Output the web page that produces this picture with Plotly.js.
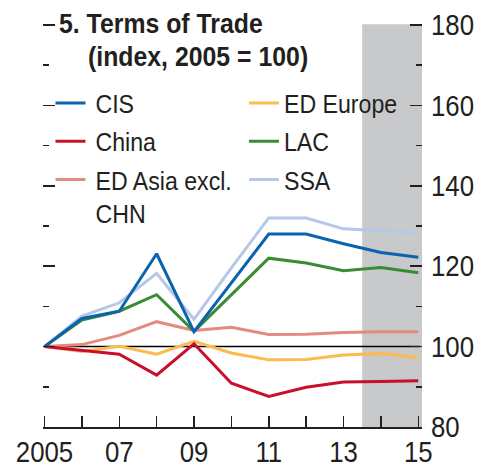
<!DOCTYPE html>
<html>
<head>
<meta charset="utf-8">
<script src="https://cdn.plot.ly/plotly-3.0.1.min.js"></script>
<style>html,body{margin:0;padding:0;background:#fff;}#chart{width:477px;height:465px;}</style>
</head>
<body>
<div id="chart"></div>
<script>
const years = [2005, 2006, 2007, 2008, 2009, 2010, 2011, 2012, 2013, 2014, 2015];
const yearLabels = ['2005', '', '07', '', '09', '', '11', '', '13', '', '15'];
const cis = [100, 107.0, 108.8, 123.1, 103.7, 115.8, 128.0, 128.0, 125.6, 123.4, 122.2];
const china = [100, 99.1, 98.1, 92.9, 100.7, 90.9, 87.6, 89.9, 91.2, 91.3, 91.5];
const edAsia = [100, 100.5, 102.8, 106.2, 104.0, 104.8, 103.0, 103.1, 103.5, 103.7, 103.7];
const edEurope = [100, 98.8, 100.1, 98.1, 101.3, 98.4, 96.7, 96.8, 97.9, 98.3, 97.3];
const lac = [100, 106.6, 108.8, 112.9, 103.8, 113.0, 122.0, 120.8, 118.9, 119.7, 118.4];
const ssa = [100, 107.6, 110.9, 118.2, 106.8, 119.6, 132.0, 132.0, 129.3, 128.8, 128.3];
const names = ['CIS', 'China', 'ED Asia excl.<br>CHN', 'ED Europe', 'LAC', 'SSA'];
const colors = ['#0B63B0', '#C8102E', '#E38B7F', '#FDBA4E', '#3A8B33', '#B5C8E8'];
const projStart = 2013.5;
const refLevel = 100;
const titleLine1 = '5. Terms of Trade';
const titleLine2 = '(index, 2005 = 100)';

const FONT = '"Liberation Sans", Arial, sans-serif';
const TXT = '#231F20';
const NARROW = 0.89;
const NARROW_TITLE = 0.92;

function tr(y, i, legend, rank) {
  return {
    x: years, y: y, name: names[i], type: 'scatter', mode: 'lines',
    line: {color: colors[i], width: 3},
    legend: legend, legendrank: rank, legendgroup: 'g' + i,
    hoverinfo: 'skip'
  };
}
const data = [
  tr(ssa, 5, 'legend2', 3),
  tr(edEurope, 3, 'legend2', 1),
  tr(edAsia, 2, 'legend', 3),
  tr(lac, 4, 'legend2', 2),
  tr(china, 1, 'legend', 2),
  tr(cis, 0, 'legend', 1)
];

const L = 42.5, T = 23, W = 380, H = 404;
const px = x => (x - L) / W;
const py = y => (T + H - y) / H;

const legendCommon = {
  bgcolor: 'rgba(0,0,0,0)', orientation: 'v', valign: 'top',
  font: {family: FONT, size: 26, color: TXT},
  itemwidth: 30, tracegroupgap: 1.5,
  xanchor: 'left', yanchor: 'top'
};

const layout = {
  width: 477, height: 465,
  margin: {l: L, r: 477 - L - W, t: T, b: 465 - T - H},
  paper_bgcolor: '#fff', plot_bgcolor: 'rgba(0,0,0,0)',
  font: {family: FONT, color: TXT},
  showlegend: true,
  legend: Object.assign({}, legendCommon, {x: px(50), y: py(79.5)}),
  legend2: Object.assign({}, legendCommon, {x: px(244), y: py(79.5)}),
  xaxis: {
    range: [2004.96, 2015.1], tickvals: years, ticktext: yearLabels,
    ticks: 'inside', ticklen: 11, tickwidth: 1.5, tickcolor: TXT,
    showline: true, linecolor: TXT, linewidth: 1.5,
    showgrid: false, zeroline: false, ticklabelstandoff: -1,
    tickfont: {family: FONT, size: 29, color: TXT}
  },
  yaxis: {
    range: [80, 180.5], side: 'right', dtick: 20, tick0: 80,
    ticks: 'inside', ticklen: 12, tickwidth: 1.5, tickcolor: TXT,
    mirror: 'ticks', showline: false, showgrid: false, zeroline: false,
    minor: {dtick: 10, ticks: 'inside', ticklen: 6, tickwidth: 1.5, tickcolor: TXT, showgrid: false},
    ticklabelstandoff: 8,
    tickfont: {family: FONT, size: 29, color: TXT}
  },
  shapes: [
    {type: 'rect', xref: 'x', yref: 'y', x0: projStart, x1: 2015.1, y0: 79.4, y1: 180.2,
     fillcolor: '#C8C9CB', line: {width: 0}, layer: 'below'},
    {type: 'line', xref: 'x', yref: 'y', x0: 2005, x1: 2015.05, y0: refLevel, y1: refLevel,
     line: {color: '#000', width: 1.5}, layer: 'below'}
  ],
  annotations: [
    {text: '<b>' + titleLine1 + '</b>', xref: 'paper', yref: 'paper', x: px(57), y: py(24),
     xanchor: 'left', yanchor: 'middle', align: 'left', showarrow: false,
     font: {family: FONT, size: 27, color: TXT}},
    {text: '<b>' + titleLine2 + '</b>', xref: 'paper', yref: 'paper', x: px(86), y: py(57.5),
     xanchor: 'left', yanchor: 'middle', align: 'left', showarrow: false,
     font: {family: FONT, size: 27, color: TXT}}
  ]
};

Plotly.newPlot('chart', data, layout, {staticPlot: true, displayModeBar: false}).then(function (gd) {
  // condensed face (like Univers Condensed): compress each text horizontally about its anchor
  gd.querySelectorAll('svg text').forEach(function (t) {
    const x = parseFloat(t.getAttribute('x')) || 0;
    const y = parseFloat(t.getAttribute('y')) || 0;
    const shift = t.classList.contains('legendtext') ? 5 : 0;
    const s = t.closest('.annotation') ? NARROW_TITLE : NARROW;
    const old = t.getAttribute('transform') || '';
    t.setAttribute('transform', old + ' translate(' + (x + shift) + ',' + y + ') scale(' + s + ',1) translate(' + (-x) + ',' + (-y) + ')');
  });
});
</script>
</body>
</html>
